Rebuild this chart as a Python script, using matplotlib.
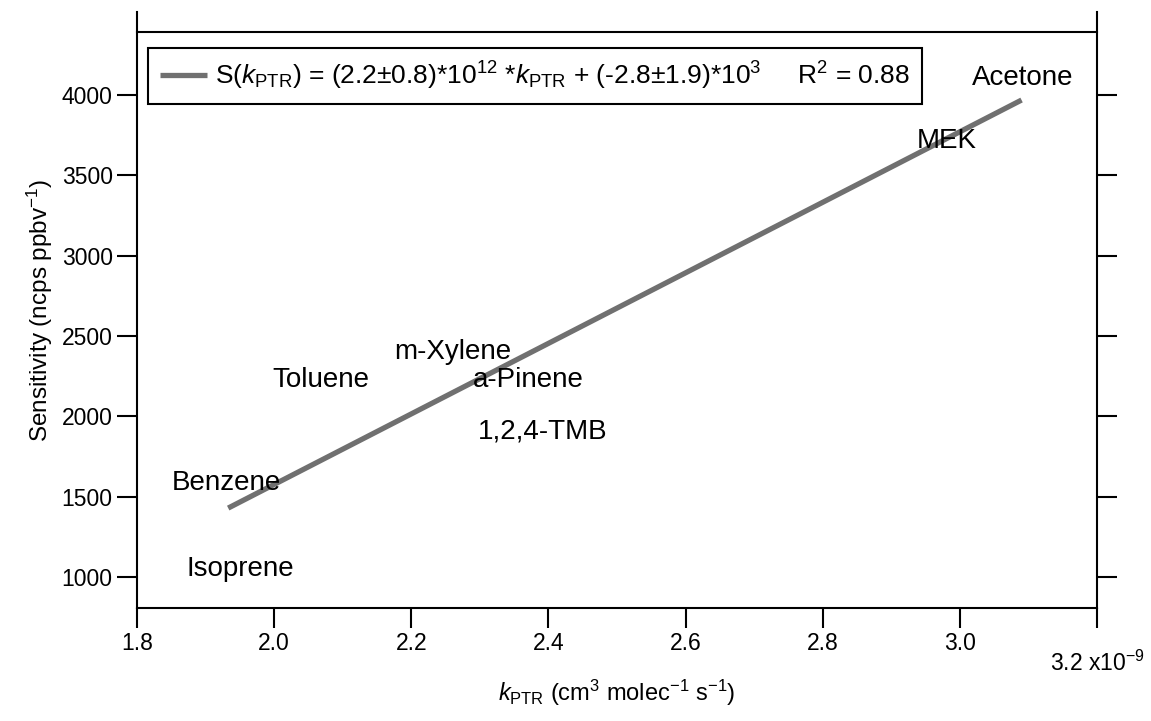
import matplotlib
matplotlib.use('Agg')
import matplotlib.pyplot as plt

plt.rcParams['font.family'] = ['Liberation Sans', 'DejaVu Sans']
plt.rcParams['mathtext.fontset'] = 'custom'
plt.rcParams['mathtext.rm'] = 'Liberation Sans'
plt.rcParams['mathtext.it'] = 'Liberation Sans:italic'

# compound labels, placed at (k_PTR [1e-9 cm3 molec-1 s-1], sensitivity [ncps/ppbv])
compounds = ['Acetone', 'MEK', 'm-Xylene', 'a-Pinene', 'Toluene', '1,2,4-TMB', 'Benzene', 'Isoprene']
label_k = [3.091, 2.981, 2.261, 2.370, 2.068, 2.392, 1.931, 1.950]
label_s = [4062, 3670, 2357, 2183, 2183, 1859, 1542, 1006]

# fitted line end points
fit_k = [1.933, 3.090]
fit_s = [1429, 3969]

xticks = [1.8, 2.0, 2.2, 2.4, 2.6, 2.8, 3.0, 3.2]
xticklabels = ['1.8', '2.0', '2.2', '2.4', '2.6', '2.8', '3.0', '']
yticks = [1000, 1500, 2000, 2500, 3000, 3500, 4000]

fit_label = (r'S($\mathit{k}_{\rm PTR}$) = (2.2$\pm$0.8)*10$^{12}$ *$\mathit{k}_{\rm PTR}$'
             r' + (-2.8$\pm$1.9)*10$^{3}$     R$^{2}$ = 0.88')

fig = plt.figure(figsize=(11.51, 7.21), dpi=100)
ax = fig.add_axes([137 / 1151, 113 / 721, 960 / 1151, 596 / 721])

ax.plot(fit_k, fit_s, color='#707070', lw=3.8, solid_capstyle='butt', label=fit_label)

for name, k, s in zip(compounds, label_k, label_s):
    ax.text(k, s, name, ha='center', va='baseline', fontsize=20)

ax.set_xlim(1.8, 3.2)
ax.set_ylim(807, 4517)
ax.set_xticks(xticks)
ax.set_xticklabels(xticklabels)
ax.set_yticks(yticks)

# top frame line sits below the end of the side axes
ax.axhline(4392, color='black', lw=1.5, clip_on=False)
ax.spines['top'].set_visible(False)
for sp in ['left', 'right', 'bottom']:
    ax.spines[sp].set_linewidth(1.5)

ax.tick_params(axis='both', direction='out', length=14.5, width=1.5, labelsize=16.5, pad=3)
ax.tick_params(axis='y', right=True)

ax.annotate(r'3.2 x10$^{-9}$', xy=(3.2, 0), xycoords=('data', 'axes fraction'),
            xytext=(0, -45.5), textcoords='offset points', ha='center', va='baseline',
            fontsize=16.5)

ax.set_xlabel(r'$\mathit{k}_{\rm PTR}$ (cm$^{3}$ molec$^{-1}$ s$^{-1}$)', fontsize=17, labelpad=16)
ax.set_ylabel(r'Sensitivity (ncps ppbv$^{-1}$)', fontsize=17.5, labelpad=5)

leg = ax.legend(loc='upper left', bbox_to_anchor=(0.0115, 0.9396), borderaxespad=0,
                fontsize=19, fancybox=False, framealpha=1, handlelength=1.8,
                borderpad=0.45, handletextpad=0.3)
leg.get_frame().set_edgecolor('black')
leg.get_frame().set_linewidth(1.5)

fig.savefig('out.png', dpi=100)
